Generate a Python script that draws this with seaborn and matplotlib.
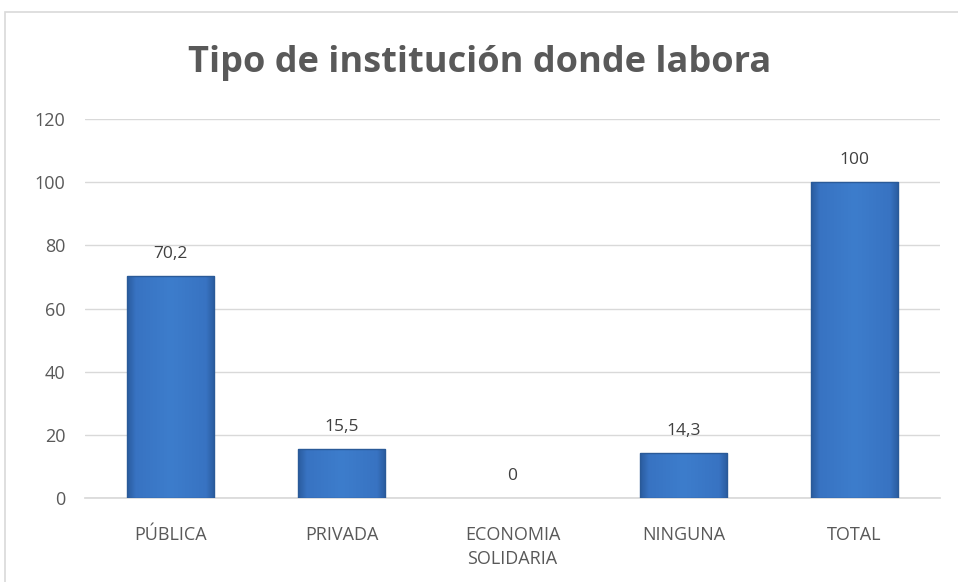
import matplotlib
matplotlib.use("Agg")
import matplotlib.pyplot as plt
import matplotlib.patches as mpatches
from matplotlib.colors import LinearSegmentedColormap
import seaborn as sns
import pandas as pd
import numpy as np

categories = ["PÚBLICA", "PRIVADA", "ECONOMIA\nSOLIDARIA", "NINGUNA", "TOTAL"]
values = [70.2, 15.5, 0, 14.3, 100]
value_labels = ["70,2", "15,5", "0", "14,3", "100"]
y_ticks = [0, 20, 40, 60, 80, 100, 120]

df = pd.DataFrame({"categoria": categories, "valor": values})

sns.set_theme(style="white")
plt.rcParams["font.family"] = ["Open Sans", "DejaVu Sans"]

grey = "#595959"
fig = plt.figure(figsize=(9.58, 5.82), dpi=100)
ax = fig.add_axes([85 / 958, 84 / 582, 855 / 958, 379 / 582])

# chart border
fig.patches.append(mpatches.Rectangle((5 / 958, -0.1), 1, 570 / 582 + 0.1, transform=fig.transFigure,
                                      fill=False, edgecolor="#d9d9d9", linewidth=1.2))

sns.barplot(data=df, x="categoria", y="valor", color="#3b78c9", saturation=1,
            width=0.51, edgecolor="#2a5a98", linewidth=1.0, ax=ax, zorder=3)

# soft shading inside each bar: darker near the sides, flat in the middle
cmap = LinearSegmentedColormap.from_list(
    "bev", [(0, "#2a5b9e"), (0.1, "#3873c2"), (0.5, "#3d7dcc"), (0.9, "#3873c2"), (1, "#2a5b9e")])
grad = np.linspace(0, 1, 256).reshape(1, -1)
for p in ax.patches:
    if p.get_height() <= 0:
        p.set_visible(False)
        continue
    x0, w, h = p.get_x(), p.get_width(), p.get_height()
    im = ax.imshow(grad, cmap=cmap, extent=[x0, x0 + w, 0, h], aspect="auto", zorder=3.5)
    im.set_clip_path(p)
    p.set_zorder(4)
    p.set_facecolor("none")

for i, (v, lab) in enumerate(zip(values, value_labels)):
    ax.text(i, v + 4.5, lab, ha="center", va="bottom", fontsize=12.5, color="#404040")

ax.set_ylim(0, 120)
ax.set_xlim(-0.5, 4.5)
ax.set_yticks(y_ticks)
ax.grid(axis="y", color="#d9d9d9", linewidth=1, zorder=0)
ax.set_axisbelow(True)
for s in ["top", "right", "left"]:
    ax.spines[s].set_visible(False)
ax.spines["bottom"].set_color("#d9d9d9")
ax.tick_params(axis="y", length=0, labelsize=13, colors=grey, pad=14)
ax.tick_params(axis="x", length=0, labelsize=13, colors=grey, pad=20)
for t in ax.get_xticklabels():
    t.set_linespacing(1.45)
ax.set_xlabel("")
ax.set_ylabel("")

fig.text(480 / 958, 1 - 63 / 582, "Tipo de institución donde labora", ha="center", va="center",
         fontsize=26, fontweight="bold", color=grey)

fig.savefig("out.png", dpi=100)
